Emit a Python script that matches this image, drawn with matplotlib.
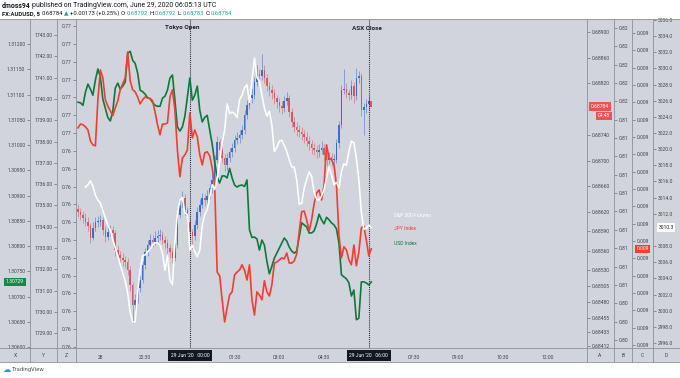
import numpy as np
import matplotlib
matplotlib.use("Agg")
import matplotlib.pyplot as plt
from matplotlib.patches import Rectangle
from matplotlib.lines import Line2D
import matplotlib.transforms as mtrans

plt.rcParams['font.family'] = ['Roboto', 'DejaVu Sans']

# ---------------- data ----------------
# 5-minute bars, time in minutes from 29 Jun 2020 00:00
BAR_FIRST_MIN = -225
BAR_STEP_MIN = 5

audusd_first_open = 0.68625
audusd_close = [0.68620,0.68615,0.68611,0.68605,0.68598,0.68580,0.68595,0.68605,0.68605,0.68608,
0.68592,0.68581,0.68589,0.68592,0.68587,0.68561,0.68553,0.68549,0.68545,0.68542,
0.68530,0.68507,0.68475,0.68483,0.68502,0.68514,0.68538,0.68558,0.68569,0.68577,
0.68573,0.68580,0.68583,0.68584,0.68577,0.68572,0.68564,0.68558,0.68549,0.68569,
0.68615,0.68631,0.68642,0.68623,0.68605,0.68589,0.68583,0.68600,0.68620,0.68631,
0.68642,0.68639,0.68645,0.68657,0.68670,0.68701,0.68729,0.68717,0.68704,0.68693,
0.68704,0.68713,0.68720,0.68732,0.68735,0.68740,0.68748,0.68771,0.68786,0.68797,
0.68802,0.68822,0.68835,0.68832,0.68841,0.68828,0.68816,0.68810,0.68805,0.68797,
0.68791,0.68785,0.68782,0.68793,0.68797,0.68776,0.68760,0.68752,0.68748,0.68744,
0.68741,0.68737,0.68731,0.68726,0.68720,0.68717,0.68713,0.68717,0.68720,0.68709,
0.68701,0.68706,0.68701,0.68701,0.68727,0.68755,0.68810,0.68811,0.68805,0.68802,
0.68816,0.68800,0.68828,0.68832,0.68779,0.68783,0.68788,0.68792,0.68784]
audusd_high = [0.68632,0.68626,0.68622,0.68618,0.68612,0.68603,0.68604,0.68612,0.68614,0.68616,
0.68613,0.68598,0.68596,0.68600,0.68599,0.68592,0.68568,0.68560,0.68556,0.68552,
0.68548,0.68536,0.68512,0.68492,0.68508,0.68522,0.68544,0.68564,0.68576,0.68586,
0.68584,0.68590,0.68592,0.68594,0.68590,0.68582,0.68578,0.68570,0.68564,0.68574,
0.68622,0.68638,0.68652,0.68648,0.68628,0.68610,0.68594,0.68608,0.68628,0.68640,
0.68650,0.68648,0.68654,0.68664,0.68680,0.68708,0.68738,0.68734,0.68722,0.68710,
0.68712,0.68720,0.68728,0.68740,0.68744,0.68748,0.68756,0.68778,0.68794,0.68806,
0.68812,0.68830,0.68848,0.68842,0.68866,0.68848,0.68834,0.68822,0.68818,0.68812,
0.68802,0.68798,0.68792,0.68800,0.68806,0.68802,0.68782,0.68768,0.68760,0.68756,
0.68752,0.68748,0.68744,0.68738,0.68732,0.68728,0.68724,0.68726,0.68730,0.68726,
0.68714,0.68714,0.68712,0.68710,0.68734,0.68762,0.68818,0.68842,0.68820,0.68812,
0.68826,0.68822,0.68844,0.68840,0.68836,0.68790,0.68796,0.68800,0.68792]
audusd_low = [0.68612,0.68608,0.68603,0.68598,0.68590,0.68572,0.68576,0.68590,0.68597,0.68598,
0.68585,0.68574,0.68576,0.68582,0.68578,0.68552,0.68545,0.68540,0.68536,0.68533,
0.68522,0.68498,0.68448,0.68468,0.68478,0.68496,0.68510,0.68532,0.68552,0.68562,
0.68566,0.68568,0.68574,0.68576,0.68570,0.68564,0.68556,0.68548,0.68540,0.68544,
0.68564,0.68610,0.68626,0.68616,0.68596,0.68578,0.68562,0.68576,0.68594,0.68614,
0.68626,0.68630,0.68632,0.68640,0.68650,0.68664,0.68696,0.68708,0.68696,0.68684,
0.68686,0.68698,0.68706,0.68714,0.68726,0.68728,0.68734,0.68742,0.68764,0.68780,
0.68790,0.68796,0.68816,0.68824,0.68826,0.68820,0.68808,0.68800,0.68796,0.68788,
0.68782,0.68776,0.68772,0.68776,0.68786,0.68768,0.68752,0.68744,0.68738,0.68736,
0.68732,0.68728,0.68722,0.68716,0.68710,0.68708,0.68704,0.68706,0.68710,0.68700,
0.68692,0.68694,0.68692,0.68694,0.68696,0.68720,0.68750,0.68804,0.68798,0.68794,
0.68796,0.68790,0.68794,0.68820,0.68770,0.68740,0.68774,0.68778,0.68783]

usd_index = [1.31085,1.31084,1.31079,1.31105,1.31121,1.31111,1.31099,1.31129,1.31151,1.31135,
1.31091,1.31073,1.31055,1.31048,1.31067,1.31113,1.31123,1.31111,1.31117,1.31125,
1.31182,1.31186,1.31168,1.31162,1.31143,1.31109,1.31106,1.31101,1.31094,1.31092,
1.31085,1.31079,1.31077,1.31077,1.31093,1.31097,1.31109,1.31133,1.31139,1.31089,
1.31036,1.31028,1.31036,1.31057,1.31095,1.31133,1.31089,1.31099,1.31117,1.31069,
1.31046,1.31055,1.31059,1.31030,1.31002,1.30966,1.30937,1.30925,1.30939,1.30939,
1.30935,1.30954,1.30935,1.30921,1.30917,1.30920,1.30921,1.30918,1.30931,1.30832,
1.30817,1.30818,1.30814,1.30792,1.30812,1.30802,1.30770,1.30745,1.30760,1.30776,
1.30786,1.30796,1.30806,1.30816,1.30810,1.30798,1.30790,1.30786,1.30790,1.30818,
1.30846,1.30842,1.30838,1.30826,1.30826,1.30830,1.30844,1.30863,1.30852,1.30844,
1.30857,1.30852,1.30846,1.30842,1.30834,1.30806,1.30743,1.30739,1.30735,1.30727,
1.30701,1.30713,1.30654,1.30657,1.30729,1.30729,1.30727,1.30723,1.30729]

jpy_index = [0.0093126,0.0093137,0.0093135,0.0093129,0.0093120,0.0093088,0.0093077,0.0093074,0.0093207,0.0093293,
0.0093270,0.0093207,0.0093189,0.0093175,0.0093161,0.0093184,0.0093204,0.0093236,0.0093253,0.0093270,
0.0093345,0.0093262,0.0093236,0.0093230,0.0093215,0.0093195,0.0093207,0.0093215,0.0093212,0.0093211,
0.0093204,0.0093172,0.0093135,0.0093106,0.0093137,0.0093137,0.0093140,0.0093215,0.0093236,0.0093178,
0.0093062,0.0092985,0.0093039,0.0093048,0.0093062,0.0093169,0.0093097,0.0093120,0.0093100,0.0093048,
0.0093019,0.0093054,0.0093057,0.0093045,0.0093011,0.0092959,0.0092710,0.0092699,0.0092630,0.0092566,
0.0092607,0.0092644,0.0092653,0.0092702,0.0092710,0.0092716,0.0092731,0.0092716,0.0092687,0.0092731,
0.0092630,0.0092586,0.0092653,0.0092644,0.0092630,0.0092685,0.0092653,0.0092641,0.0092673,0.0092736,
0.0092739,0.0092745,0.0092751,0.0092748,0.0092765,0.0092736,0.0092736,0.0092742,0.0092762,0.0092826,
0.0092884,0.0092886,0.0092861,0.0092829,0.0092861,0.0092907,0.0092938,0.0092947,0.0092918,0.0092959,
0.0093077,0.0093039,0.0093034,0.0093019,0.0092961,0.0092817,0.0092751,0.0092783,0.0092774,0.0092745,
0.0092731,0.0092788,0.0092728,0.0092768,0.0092837,0.0092843,0.0092803,0.0092757,0.0092777]

spx_futures = [np.nan,np.nan,np.nan,3015.3,3015.6,3016.1,3015.4,3014.3,3013.7,3013.3,
3012.4,3011.5,3010.6,3010.0,3008.8,3007.8,3006.8,3005.7,3004.7,3003.7,
3002.2,2999.8,2998.6,2998.6,3002.3,3005.0,3006.8,3006.9,3007.3,3007.6,
3008.1,3008.4,3008.4,3008.1,3007.1,3005.0,3006.8,3003.8,3003.2,3008.5,
3012.0,3013.7,3014.0,3012.1,3011.9,3007.5,3008.1,3007.3,3006.7,3007.5,
3010.6,3011.9,3012.5,3014.1,3015.6,3015.0,3016.4,3018.4,3020.8,3022.3,
3025.6,3024.4,3024.6,3024.4,3023.9,3026.1,3026.7,3027.6,3028.0,3025.8,
3028.6,3031.3,3028.9,3028.4,3026.7,3025.1,3024.1,3024.7,3023.0,3019.7,
3020.2,3021.0,3021.1,3020.5,3019.7,3018.7,3017.8,3017.8,3016.2,3013.2,
3013.3,3015.2,3016.2,3017.2,3016.6,3014.7,3013.8,3013.7,3014.2,3015.0,
3016.4,3017.8,3016.8,3015.6,3015.9,3015.2,3017.2,3018.2,3018.0,3019.7,
3021.0,3020.8,3018.9,3016.2,3012.2,3010.1,3010.2,3010.6,3010.3]

# axis ticks / labels (labels hidden by the last-value boxes are left out)
x_ticks = [1.30600,1.30650,1.30700,1.30750,1.30800,1.30850,1.30900,1.30950,1.31000,1.31050,1.31100,1.31150,1.31200]
y_ticks = [1729,1730,1731,1732,1733,1734,1735,1736,1737,1738,1739,1740,1741,1742,1743]
z_ticks = [0.7590,0.7595,0.7600,0.7605,0.7610,0.7615,0.7620,0.7625,0.7630,0.7635,0.7640,0.7645,0.7650,0.7655,0.7660,0.7665,0.7670,0.7675,0.7680]
z_labels = ['0.76']*12 + ['0.77']*7
a_ticks = [0.68412,0.68433,0.68455,0.68480,0.68505,0.68530,0.68560,0.68590,0.68620,0.68660,0.68700,0.68740,0.68820,0.68860,0.68900]
b_ticks = [0.8025,0.8035,0.8045,0.8055,0.8065,0.8075,0.8085,0.8095,0.8105,0.8115,0.8125,0.8135,0.8145,0.8155,0.8165,0.8175,0.8185,0.8195]
b_labels = ['0.80']*3 + ['0.81']*10 + ['0.82']*5
c_ticks = [0.009250,0.009255,0.009260,0.009265,0.009270,0.009275,0.009280,0.009285,0.009290,0.009295,
           0.009300,0.009305,0.009310,0.009315,0.009320,0.009325,0.009330,0.009335,0.009340]
c_labels = ['0.009']*19
d_ticks = [2996,2998,3000,3002,3004,3006,3008,3012,3014,3016,3018,3020,3022,3024,3026,3028,3030,3032,3034,3036]

time_ticks = [-180,-90,90,180,270,450,540,630,720]
time_labels = ['28','22:30','01:30','03:00','04:30','07:30','09:00','10:30','12:00']
event_times = [0, 360]
event_names = ['Tokyo Open', 'ASX Close']
event_box_labels = ["29 Jun '20   00:00", "29 Jun '20   06:00"]

# ---------------- layout ----------------
W, H = 680, 378
fig = plt.figure(figsize=(W/100, H/100), dpi=100)
fig.patch.set_facecolor('white')
def fx(p): return p / W
def fy(p): return 1 - p / H

BG = '#d1d4dc'
SEP = '#8d9099'
TXT = '#43464e'
GREEN = '#0b7a3c'
RED = '#f23d2f'
CBLUE = '#3565cc'
CRED = '#d9505a'
FS = 3.6

fig.add_artist(Rectangle((0, fy(362)), 1, fy(19)-fy(362), transform=fig.transFigure,
                         fc=BG, ec='none', zorder=-10))

L, R, T, B = 76, 587, 19, 348
ax = fig.add_axes([fx(L), fy(B), fx(R)-fx(L), fy(T)-fy(B)])
ax.set_facecolor('none')
for s in ax.spines.values():
    s.set_visible(False)
ax.set_xlim(-229, 799)
ax.set_ylim(0.684086, 0.689202)

t = BAR_FIRST_MIN + BAR_STEP_MIN*np.arange(len(audusd_close))
c = np.array(audusd_close)
o = np.array([audusd_first_open] + audusd_close[:-1])
h = np.array(audusd_high)
l = np.array(audusd_low)
up = c >= o
cols = np.where(up, CBLUE, CRED)
ax.vlines(t, l, h, colors=cols, lw=0.7, alpha=0.5, zorder=2)
ax.bar(t, np.maximum(np.abs(c-o), 0.000012), bottom=np.minimum(o, c), width=3.2,
       color=cols, alpha=0.92, linewidth=0, zorder=3)

for et in event_times:
    ax.axvline(et, color='#1e222d', lw=0.75, ls=(0, (1.0, 1.0)), zorder=4)

def twin(side, offset_px, lims, ticks, labels):
    a = ax.twinx()
    a.set_ylim(*lims)
    for s in a.spines.values():
        s.set_visible(False)
    a.patch.set_visible(False)
    if side == 'left':
        a.yaxis.tick_left()
        a.spines['left'].set_position(('outward', offset_px*0.72))
    else:
        a.yaxis.tick_right()
        a.spines['right'].set_position(('outward', offset_px*0.72))
    a.set_yticks(ticks, labels)
    a.tick_params(axis='y', direction='out', length=2.2, width=0.5, color='#6b6e76',
                  labelsize=FS, pad=1.2, labelcolor=TXT)
    return a

axX = twin('left', 46, (1.30598, 1.31250), x_ticks, [f'{v:.5f}' for v in x_ticks])
axY = twin('left', 19, (1728.31, 1743.75), y_ticks, [f'{v:.2f}' for v in y_ticks])
axZ = twin('left', 0, (0.75897, 0.76820), z_ticks, z_labels)
axB = twin('right', 27, (0.80206, 0.81999), b_ticks, b_labels)
axC = twin('right', 45, (0.0092491, 0.0093440), c_ticks, c_labels)
axD = twin('right', 66, (2995.38, 3036.12), d_ticks, [f'{v:.1f}' for v in d_ticks])

ax.yaxis.tick_right()
ax.set_yticks(a_ticks, [f'{v:.5f}' for v in a_ticks])
ax.tick_params(axis='y', direction='out', length=2.2, width=0.5, color='#6b6e76',
               labelsize=FS, pad=1.2, labelcolor=TXT)
ax.set_xticks(time_ticks, time_labels)
ax.tick_params(axis='x', length=0, labelsize=FS, pad=5.2, labelcolor=TXT)

axD.plot(t, spx_futures, color='white', lw=1.15, zorder=5)
axC.plot(t, jpy_index, color=RED, lw=1.2, zorder=5)
axX.plot(t, usd_index, color=GREEN, lw=1.2, zorder=6)

# event labels
trx = mtrans.blended_transform_factory(ax.transData, fig.transFigure)
ax.text(-15, fy(28), event_names[0], transform=trx, ha='center', va='center',
        fontsize=4.6, fontweight='bold', color='#1e222d')
ax.text(356, fy(28), event_names[1], transform=trx, ha='center', va='center',
        fontsize=4.6, fontweight='bold', color='#1e222d')
for et, lab in zip(event_times, event_box_labels):
    ax.text(et, fy(355.5), lab, transform=trx, ha='center', va='center', fontsize=FS,
            color='white', bbox=dict(boxstyle='square,pad=0.55', fc='#131722', ec='none'),
            clip_on=False, zorder=10)

# legend labels
fig.text(fx(394), fy(215), 'S&P 500 Futures', color='white', fontsize=FS, va='center')
fig.text(fx(394), fy(228), 'JPY Index', color=RED, fontsize=FS, va='center')
fig.text(fx(394), fy(243), 'USD Index', color=GREEN, fontsize=FS, va='center')

# price labels on scales
def price_box(axis, xpix, val, text, fc, tc='white', ha='center'):
    tr = mtrans.blended_transform_factory(fig.transFigure, axis.transData)
    fig.text(fx(xpix), val, text, transform=tr, ha=ha, va='center', fontsize=FS, color=tc,
             bbox=dict(boxstyle='square,pad=0.35', fc=fc, ec='none'), zorder=20)

price_box(axX, 15, usd_index[-1], f'{usd_index[-1]:.5f}', '#138a48')
price_box(ax, 600, audusd_close[-1], f'{audusd_close[-1]:.5f}', '#ef5350')
price_box(ax, 604, 0.68784 - 0.000145, '04:48', '#ef5350')
price_box(axC, 642.5, jpy_index[-1], '0.009', '#f23d2f')
price_box(axD, 666, spx_futures[-1], f'{spx_futures[-1]:.1f}', 'white', tc='#131722')

# separators
for xp in [30, 57, 76, 587, 614, 632, 653]:
    fig.add_artist(Line2D([fx(xp)]*2, [fy(19), fy(362)], transform=fig.transFigure,
                          color=SEP, lw=0.6, zorder=1))
for yp in [19, 348, 362]:
    fig.add_artist(Line2D([0, 1], [fy(yp)]*2, transform=fig.transFigure, color=SEP, lw=0.6, zorder=1))

for lab, xp in zip(['X', 'Y', 'Z', 'A', 'B', 'C', 'D'], [15, 43.5, 66.5, 600, 623, 642.5, 666.5]):
    fig.text(fx(xp), fy(355.5), lab, ha='center', va='center', fontsize=FS, color=TXT)

# header: segments laid out one after another, scaled to the reference width
renderer = fig.canvas.get_renderer()
def seq_line(ypix, segs, x0, target_w, base_fs=4.0):
    widths = []
    for s, col, fw, gap in segs:
        tt = fig.text(0, 0, s, fontsize=base_fs, fontweight=fw,
                      family=['Roboto', 'DejaVu Sans'])
        widths.append(tt.get_window_extent(renderer).width)
        tt.remove()
    sp = 0.26 * base_fs * 100 / 72
    total = sum(widths) + sp * sum(1 for s in segs[1:] if s[3])
    k = target_w / total
    fs = base_fs * k
    x = x0
    for (s, col, fw, gap), w in zip(segs, widths):
        if gap and x != x0:
            x += sp * k
        fig.text(fx(x), fy(ypix), s, fontsize=fs, color=col, fontweight=fw, va='center',
                 family=['Roboto', 'DejaVu Sans'])
        x += w * k

DARK = '#131722'
TEAL = '#26a69a'
seq_line(5.5, [('dmoss94', DARK, 'bold', False),
               ('published on TradingView.com, June 29, 2020 06:05:13 UTC', DARK, 'normal', True)],
         2, 211)
seq_line(13.5, [('FX:AUDUSD, 5', DARK, 'bold', False), ('0.68784', DARK, 'normal', True),
                ('\u25b2', TEAL, 'normal', True), ('+0.00173 (+0.25%)', DARK, 'normal', True),
                ('O:', DARK, 'normal', True), ('0.68792', TEAL, 'normal', False),
                ('H:', DARK, 'normal', True), ('0.68792', TEAL, 'normal', False),
                ('L:', DARK, 'normal', True), ('0.68783', TEAL, 'normal', False),
                ('C:', DARK, 'normal', True), ('0.68784', TEAL, 'normal', False)],
         2, 230)

# footer
fig.text(fx(3), fy(369), '\u2601', fontsize=6, color='#2196f3', va='center', family=['DejaVu Sans'])
fig.text(fx(12), fy(369), 'TradingView', fontsize=4.2, color='#50535e', va='center')

fig.savefig('out.png', dpi=100, facecolor='white')
